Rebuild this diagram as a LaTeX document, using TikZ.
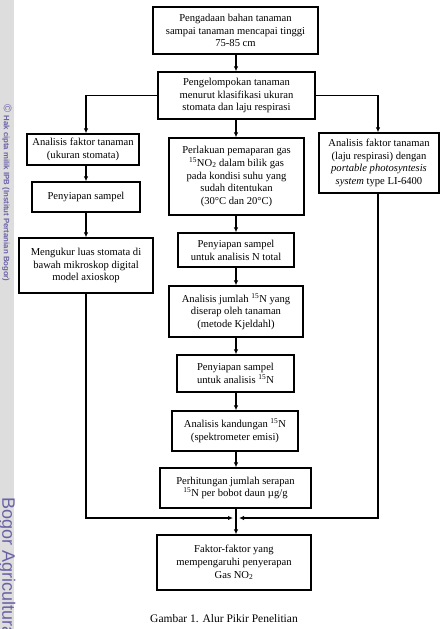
\documentclass[tikz,border=0pt]{standalone}
\usepackage{fontspec}
\setmainfont{Liberation Serif}
\setsansfont{Liberation Sans}
\usetikzlibrary{arrows.meta,calc}
\definecolor{wmgray}{HTML}{DDDDDD}
\definecolor{wmtext}{HTML}{6A62A6}
\begin{document}
\begin{tikzpicture}[x=1pt,y=-1pt,
  box/.style={draw,line width=1.3pt,inner sep=0pt,align=center,
    font=\fontsize{10.6}{12.8}\selectfont},
  conn/.style={line width=1.1pt},
  arr/.style={conn,-{Latex[length=5pt,width=4.5pt]}}]
\useasboundingbox (0,0) rectangle (440,629);
% watermark strip
\fill[wmgray] (0,0) rectangle (14,629);
\node[rotate=-90,text=wmtext,inner sep=0pt] (wm1) at (7,193) {\sffamily\fontsize{11}{11}\selectfont\textcopyright\ \bfseries\fontsize{7.8}{8}\selectfont Hak cipta milik IPB (Institut Pertanian Bogor)};
\node[rotate=-90,text=wmtext,font=\sffamily\fontsize{18}{20}\selectfont,inner sep=0pt,anchor=west] (wm2) at (7,497) {Bogor Agricultural University};
% boxes
\node[box,minimum width=165pt,minimum height=47pt] (b1) at (235.5,30.5) {Pengadaan bahan tanaman\\sampai tanaman mencapai tinggi\\75-85 cm};
\node[box,minimum width=157pt,minimum height=47pt] (b2) at (236.5,95.5) {Pengelompokan tanaman\\menurut klasifikasi ukuran\\stomata dan laju respirasi};
\node[box,minimum width=112pt,minimum height=31pt] (L1) at (83,149.5) {Analisis faktor tanaman\\(ukuran stomata)};
\node[box,minimum width=108pt,minimum height=30pt] (L2) at (86,197) {Penyiapan sampel};
\node[box,minimum width=134pt,minimum height=55pt] (L3) at (86,265.5) {Mengukur luas stomata di\\bawah mikroskop digital\\model axioskop};
\node[box,minimum width=135pt,minimum height=77pt] (M1) at (236.5,176.5) {Perlakuan pemaparan gas\\\textsuperscript{15}NO\textsubscript{2} dalam bilik gas\\pada kondisi suhu yang\\sudah ditentukan\\(30°C dan 20°C)};
\node[box,minimum width=116pt,minimum height=34pt] (M2) at (236,250) {Penyiapan sampel\\untuk analisis N total};
\node[box,minimum width=134pt,minimum height=51pt] (M3) at (236,311.5) {Analisis jumlah \textsuperscript{15}N yang\\diserap oleh tanaman\\(metode Kjeldahl)};
\node[box,minimum width=117pt,minimum height=37pt] (M4) at (235.5,373.5) {Penyiapan sampel\\untuk analisis \textsuperscript{15}N};
\node[box,minimum width=126pt,minimum height=40pt] (M5) at (235,431) {Analisis kandungan \textsuperscript{15}N\\(spektrometer emisi)};
\node[box,minimum width=151pt,minimum height=40pt] (M6) at (235.5,488) {Perhitungan jumlah serapan\\\textsuperscript{15}N per bobot daun µg/g};
\node[box,minimum width=154pt,minimum height=55pt] (F) at (234,562.5) {Faktor-faktor yang\\mempengaruhi penyerapan\\Gas NO\textsubscript{2}};
\node[box,minimum width=120pt,minimum height=60pt] (R1) at (379,163) {Analisis faktor tanaman\\(laju respirasi) dengan\\\textit{portable photosyntesis}\\\textit{system} type LI-6400};
\node[font=\fontsize{11.5}{13}\selectfont,inner sep=0pt] (cap) at (224,619) {Gambar 1. Alur Pikir Penelitian};
% helper coordinates
\coordinate (lc) at (86,0);
\coordinate (rc) at (378,0);
\coordinate (mc) at (236,0);
\coordinate (jl) at (233,518);
\coordinate (jr) at (239,518);
% connectors
\draw[arr] (b1.south -| mc) -- (b2.north -| mc);
\draw[arr] (b2.west) -| (lc |- L1.north);
\draw[arr] (b2.east) -| (rc |- R1.north);
\draw[arr] (b2.south -| mc) -- (M1.north -| mc);
\draw[arr] (lc |- L1.south) -- (lc |- L2.north);
\draw[arr] (lc |- L2.south) -- (lc |- L3.north);
\draw[arr] (M1.south -| mc) -- (M2.north -| mc);
\draw[arr] (M2.south -| mc) -- (M3.north -| mc);
\draw[arr] (M3.south -| mc) -- (M4.north -| mc);
\draw[arr] (M4.south -| mc) -- (M5.north -| mc);
\draw[arr] (M5.south -| mc) -- (M6.north -| mc);
\draw[arr] (lc |- L3.south) |- (jl);
\draw[arr] (rc |- R1.south) |- (jr);
\draw[arr] (M6.south -| mc) -- (F.north -| mc);
\end{tikzpicture}
\end{document}
